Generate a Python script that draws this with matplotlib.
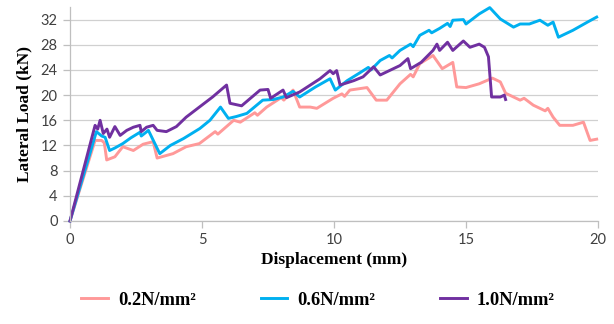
import matplotlib
matplotlib.use('Agg')
import matplotlib.pyplot as plt

# 0.2 N/mm2
x_02 = [0, 0.95, 1.2, 1.3, 1.39, 1.7, 2.0, 2.4, 2.77, 3.15, 3.3, 3.9, 4.4, 4.9,
        5.5, 5.6, 6.2, 6.45, 7.0, 7.1, 7.45, 8.0, 8.1, 8.45, 8.7, 9.1, 9.35,
        9.97, 10.3, 10.4, 10.6, 11.25, 11.6, 12.0, 12.5, 12.9, 13.0, 13.25,
        13.75, 14.1, 14.5, 14.65, 15.0, 15.5, 16.0, 16.3, 16.5, 17.05, 17.2,
        17.55, 18.0, 18.1, 18.3, 18.55, 19.05, 19.45, 19.7, 19.95]
y_02 = [0, 12.8, 12.8, 12.4, 9.7, 10.2, 11.8, 11.2, 12.2, 12.6, 10.0, 10.7,
        11.8, 12.3, 14.2, 13.8, 16.0, 15.7, 17.2, 16.8, 18.1, 19.6, 19.2, 20.8,
        18.1, 18.1, 17.9, 19.5, 20.2, 19.8, 20.8, 21.2, 19.2, 19.2, 21.8, 23.3,
        22.9, 25.0, 26.3, 24.2, 25.2, 21.3, 21.2, 21.8, 22.7, 22.1, 20.3, 19.2,
        19.5, 18.4, 17.5, 17.9, 16.5, 15.2, 15.2, 15.7, 12.8, 13.0]

# 0.6 N/mm2
x_06 = [0, 1.0, 1.2, 1.33, 1.5, 1.7, 2.0, 2.3, 2.65, 2.7, 2.97, 3.4, 3.8, 4.3,
        4.92, 5.3, 5.7, 6.0, 6.3, 6.7, 7.3, 7.7, 8.07, 8.45, 8.7, 9.3, 9.85,
        10.05, 10.5, 11.0, 11.3, 11.4, 11.75, 12.1, 12.2, 12.5, 12.9, 13.0,
        13.25, 13.6, 13.7, 14.0, 14.3, 14.4, 14.5, 14.9, 15.0, 15.5, 15.9,
        16.3, 16.8, 17.05, 17.4, 17.8, 18.1, 18.3, 18.5, 19.05, 19.6, 19.95]
y_06 = [0, 14.2, 13.5, 13.3, 11.2, 11.6, 12.3, 13.2, 14.1, 13.5, 14.4, 10.7,
        12.0, 13.1, 14.7, 16.0, 18.1, 16.3, 16.6, 17.1, 19.2, 19.3, 19.7, 20.6,
        19.7, 21.3, 22.6, 20.8, 22.3, 23.6, 24.4, 24.0, 25.5, 26.3, 25.9, 27.1,
        28.1, 27.7, 29.5, 30.3, 29.9, 30.6, 31.4, 30.9, 31.9, 32.0, 31.3, 32.9,
        33.9, 32.1, 30.8, 31.3, 31.3, 31.9, 31.1, 31.6, 29.2, 30.3, 31.6, 32.4]

# 1.0 N/mm2
x_10 = [0, 0.95, 1.05, 1.14, 1.26, 1.4, 1.5, 1.7, 1.9, 2.15, 2.4, 2.65, 2.7,
        2.9, 3.15, 3.3, 3.65, 4.03, 4.4, 4.9, 5.4, 5.93, 6.06, 6.5, 7.2, 7.5,
        7.6, 8.07, 8.2, 8.7, 9.47, 9.85, 9.97, 10.1, 10.23, 10.75, 11.1, 11.5,
        11.75, 12.1, 12.5, 12.8, 12.9, 13.3, 13.75, 13.9, 14.0, 14.3, 14.5,
        14.9, 15.15, 15.5, 15.7, 15.85, 15.97, 16.3, 16.45, 16.5]
y_10 = [0, 15.2, 14.6, 16.0, 13.9, 14.6, 13.3, 15.0, 13.6, 14.4, 14.9, 15.2,
        14.2, 14.9, 15.2, 14.4, 14.2, 15.0, 16.5, 18.1, 19.7, 21.6, 18.7, 18.3,
        20.8, 20.9, 19.5, 20.8, 19.6, 20.5, 22.6, 23.9, 23.4, 23.9, 21.6, 22.3,
        22.9, 24.5, 23.2, 23.9, 24.7, 25.8, 24.2, 25.2, 27.1, 28.1, 27.1, 28.4,
        27.1, 28.6, 27.6, 28.1, 27.6, 26.1, 19.7, 19.7, 20.0, 19.3]

labels = ['0.2N/mm²', '0.6N/mm²', '1.0N/mm²']
colors = ['#FF9999', '#00B0F0', '#7030A0']
xticks = [0, 5, 10, 15, 20]
yticks = [0, 4, 8, 12, 16, 20, 24, 28, 32]

fig = plt.figure(figsize=(6.14, 3.24), dpi=100)
ax = fig.add_axes([70/614, 103/324, 528/614, 214/324])

for xs, ys, lab, c in zip([x_02, x_06, x_10], [y_02, y_06, y_10], labels, colors):
    ax.plot(xs, ys, color=c, lw=2.1, label=lab, clip_on=False, solid_joinstyle='round')

ax.set_xlim(0, 20)
ax.set_ylim(0, 34)
ax.set_xticks(xticks)
ax.set_yticks(yticks)
ax.grid(axis='y', color='#D0D0D0', lw=0.9)
ax.set_axisbelow(True)
for s in ['top', 'right']:
    ax.spines[s].set_visible(False)
for s in ['left', 'bottom']:
    ax.spines[s].set_color('#BFBFBF')
    ax.spines[s].set_linewidth(0.9)
ax.tick_params(axis='both', color='#BFBFBF', length=5, width=0.9,
               labelcolor='#404040', labelsize=10.5, pad=4)
for t in ax.get_xticklabels() + ax.get_yticklabels():
    t.set_family('Lato')

ax.set_xlabel('Displacement (mm)', family='Liberation Serif', weight='bold',
              fontsize=12.5, labelpad=3)
ax.set_ylabel('Lateral Load (kN)', family='Liberation Serif', weight='bold',
              fontsize=12.5, labelpad=6)

fig.legend(loc='center', bbox_to_anchor=(0.518, 0.074), ncol=3, frameon=False,
           prop={'family': 'Liberation Serif', 'weight': 'bold', 'size': 13.3},
           handlelength=1.45, handletextpad=0.55, columnspacing=3.5)

fig.savefig('out.png', dpi=100)
